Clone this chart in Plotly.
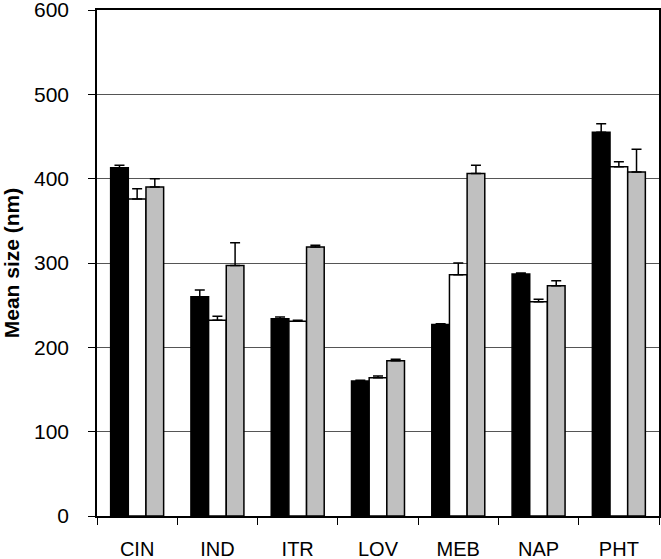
import plotly.graph_objects as go

# Data
drugs = ['CIN', 'IND', 'ITR', 'LOV', 'MEB', 'NAP', 'PHT']

black_vals = [413, 260, 234, 160, 227, 287, 455]
black_err = [3, 8, 2, 1, 1, 1, 10]
white_vals = [376, 232, 231, 164, 286, 254, 414]
white_err = [12, 5, 1, 2, 14, 3, 6]
gray_vals = [390, 297, 319, 184, 406, 273, 408]
gray_err = [10, 27, 2, 2, 10, 6, 27]

fig = go.Figure()

series = [
    (black_vals, black_err, 'black'),
    (white_vals, white_err, 'white'),
    (gray_vals, gray_err, '#c0c0c0'),
]
for vals, errs, col in series:
    fig.add_trace(go.Bar(
        x=drugs, y=vals,
        marker=dict(color=col, line=dict(color='black', width=1.5)),
        error_y=dict(type='data', array=errs, arrayminus=[0] * len(errs),
                     symmetric=False, color='black', thickness=1.5, width=5),
        showlegend=False,
    ))

fig.update_layout(
    width=661, height=559,
    margin=dict(l=97, r=2, t=10, b=43),
    barmode='group', bargap=0.34, bargroupgap=0,
    plot_bgcolor='white', paper_bgcolor='white',
    font=dict(family='Liberation Sans, Arial, sans-serif', color='black', size=20),
)
fig.update_xaxes(
    automargin=False,
    showline=True, linecolor='black', linewidth=1.5, mirror=True,
    ticks='outside', tickson='boundaries', ticklen=7, tickcolor='black',
    tickfont=dict(size=20), ticklabelstandoff=14, showgrid=False,
)
fig.update_yaxes(
    automargin=False, ticklabeloverflow='allow',
    range=[0, 600], dtick=100,
    showline=True, linecolor='black', linewidth=1.5, mirror=True,
    ticks='outside', ticklen=7, tickcolor='black',
    showgrid=True, gridcolor='#555555', gridwidth=1.2,
    tickfont=dict(size=21), ticklabelstandoff=15,
    title=dict(text='<b>Mean size (nm)</b>', font=dict(size=21), standoff=10),
    zeroline=False,
)

# drop the default page margin so the figure sits at the window's corner
fig.write_html('out.html', config={'displayModeBar': False},
               post_script="document.body.style.margin='0';")
